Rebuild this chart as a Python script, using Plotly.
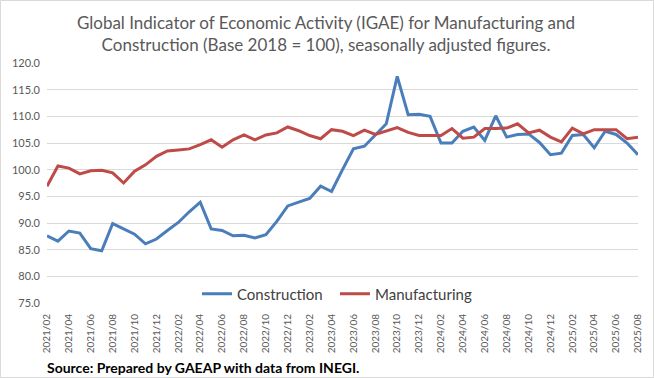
import plotly.graph_objects as go

months = [f"{y}/{m:02d}" for y in range(2021, 2026) for m in range(1, 13)]
months = months[months.index("2021/02"):months.index("2025/08") + 1]

construction = [87.6, 86.6, 88.5, 88.1, 85.2, 84.8, 89.9, 88.9, 87.9, 86.1,
                87.0, 88.6, 90.1, 92.1, 93.9, 88.9, 88.6, 87.6, 87.7, 87.2,
                87.8, 90.3, 93.2, 93.9, 94.6, 96.9, 95.9, 100.0, 103.9, 104.4,
                106.6, 108.6, 117.5, 110.3, 110.4, 110.0, 105.0, 105.0, 107.2, 108.0,
                105.5, 110.1, 106.1, 106.6, 106.7, 105.1, 102.8, 103.1, 106.4, 106.6,
                104.1, 107.2, 106.6, 105.0, 102.8]

manufacturing = [96.9, 100.7, 100.3, 99.2, 99.8, 99.9, 99.4, 97.5, 99.7, 100.9,
                 102.5, 103.5, 103.7, 103.9, 104.7, 105.6, 104.2, 105.6, 106.5, 105.6,
                 106.5, 106.9, 108.0, 107.3, 106.4, 105.8, 107.5, 107.2, 106.4, 107.4,
                 106.6, 107.2, 107.9, 107.0, 106.4, 106.4, 106.4, 107.7, 105.9, 106.1,
                 107.7, 107.7, 107.8, 108.6, 106.9, 107.4, 106.1, 105.2, 107.8, 106.7,
                 107.5, 107.5, 107.5, 105.8, 106.1]

tick_labels = months[::2]
y_ticks = [75, 80, 85, 90, 95, 100, 105, 110, 115, 120]

FONT = "Lato"
W, H = 654, 378
L, R, T, B = 47, 16, 63, 75
pw, ph = W - L - R, H - T - B


def px_x(x):
    return (x - L) / pw


def px_y(y):
    return (T + ph - y) / ph


fig = go.Figure()
fig.add_trace(go.Scatter(x=months, y=construction, mode="lines", name="Construction",
                         line=dict(color="#4A7EBB", width=3)))
fig.add_trace(go.Scatter(x=months, y=manufacturing, mode="lines", name="Manufacturing",
                         line=dict(color="#BE4B48", width=3)))

fig.update_layout(
    width=W, height=H,
    margin=dict(l=L, r=R, t=T, b=B, autoexpand=False),
    paper_bgcolor="white", plot_bgcolor="white",
    font=dict(family=FONT, color="#595959"),
    title=dict(text="Global Indicator of Economic Activity (IGAE) for Manufacturing and<br>"
                    "Construction (Base 2018 = 100), seasonally adjusted figures.",
               x=326 / W, xanchor="center", y=1 - 29 / H, yanchor="top",
               font=dict(family=FONT, size=17, color="#595959")),
    showlegend=True,
    legend=dict(orientation="h", x=px_x(197), xanchor="left",
                y=px_y(294), yanchor="middle", bgcolor="rgba(0,0,0,0)",
                entrywidth=93, entrywidthmode="pixels", tracegroupgap=0,
                font=dict(family=FONT, size=15, color="#404040")),
    xaxis=dict(type="category", tickmode="array", tickvals=tick_labels, ticktext=tick_labels,
               tickangle=-90, tickfont=dict(size=10, color="#595959"), automargin=False,
               ticklabelstandoff=8,
               showgrid=False, showline=False, ticks="", zeroline=False),
    yaxis=dict(range=[75, 120], tickvals=y_ticks, ticktext=[f"{v:.1f}" for v in y_ticks],
               tickfont=dict(size=11, color="#595959"), showgrid=True, automargin=False,
               ticklabelstandoff=6,
               gridcolor="#D9D9D9", gridwidth=1, zeroline=False, showline=False, ticks=""),
)

fig.add_annotation(text="<b>Source: Prepared by GAEAP with data from INEGI.</b>",
                   xref="paper", yref="paper", x=px_x(45), y=px_y(367),
                   xanchor="left", yanchor="middle", showarrow=False,
                   font=dict(family=FONT, size=14, color="black"))

fig.add_shape(type="rect", xref="paper", yref="paper",
              x0=px_x(0.5), x1=px_x(W - 0.5),
              y0=px_y(H - 0.5), y1=px_y(0.5),
              line=dict(color="#D9D9D9", width=1))

fig.write_html("out.html", config={"displayModeBar": False},
               post_script="document.body.style.margin='0';")
